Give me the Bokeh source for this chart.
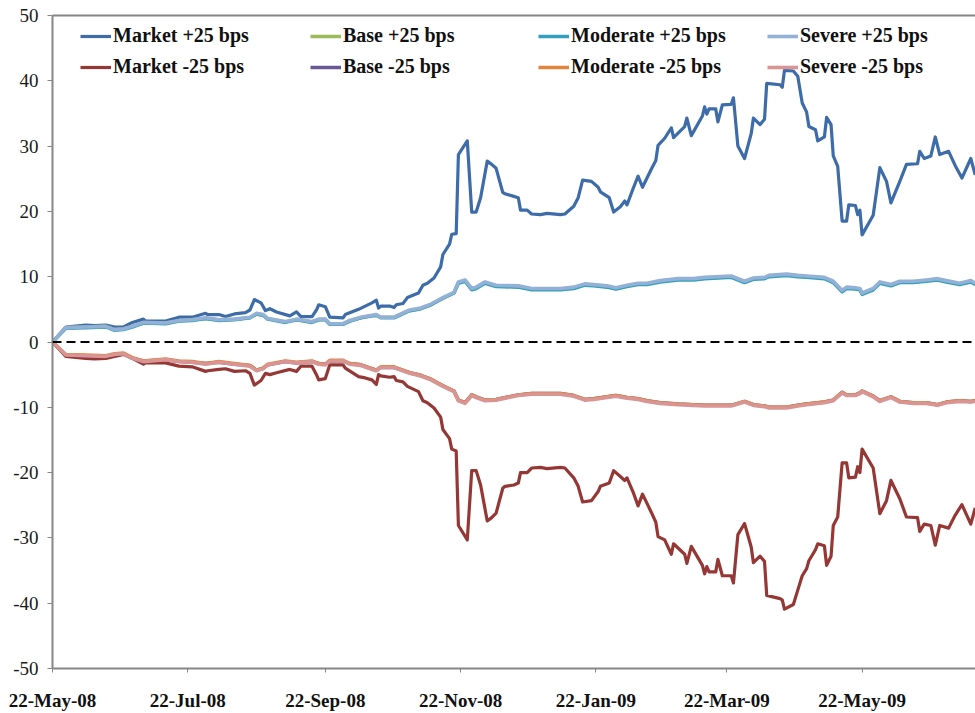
import pandas as pd
from bokeh.plotting import figure
from bokeh.models import (Range1d, FixedTicker, Span, Legend, LegendItem,
                          LinearAxis, DatetimeTickFormatter)
from bokeh.embed import file_html
from bokeh.resources import INLINE

# ---------------- data ----------------
market_dates = [
    "2008-05-22", "2008-05-28", "2008-06-06", "2008-06-10", "2008-06-15", "2008-06-19", "2008-06-23", "2008-06-27",
    "2008-07-02", "2008-07-03", "2008-07-12", "2008-07-18", "2008-07-24", "2008-07-30", "2008-07-31", "2008-08-05",
    "2008-08-08", "2008-08-12", "2008-08-17", "2008-08-19", "2008-08-21", "2008-08-24", "2008-08-26", "2008-08-28",
    "2008-08-31", "2008-09-06", "2008-09-09", "2008-09-11", "2008-09-16", "2008-09-18", "2008-09-19", "2008-09-22",
    "2008-09-24", "2008-09-30", "2008-10-01", "2008-10-07", "2008-10-10", "2008-10-13", "2008-10-15", "2008-10-16",
    "2008-10-17", "2008-10-21", "2008-10-23", "2008-10-24", "2008-10-27", "2008-10-29", "2008-11-03", "2008-11-05",
    "2008-11-07", "2008-11-10", "2008-11-13", "2008-11-14", "2008-11-17", "2008-11-18", "2008-11-20", "2008-11-21",
    "2008-11-25", "2008-11-27", "2008-11-29", "2008-12-01", "2008-12-04", "2008-12-06", "2008-12-08", "2008-12-11",
    "2008-12-12", "2008-12-16", "2008-12-18", "2008-12-19", "2008-12-22", "2008-12-24", "2008-12-28", "2008-12-31",
    "2009-01-06", "2009-01-08", "2009-01-12", "2009-01-14", "2009-01-16", "2009-01-20", "2009-01-23", "2009-01-24",
    "2009-01-28", "2009-01-30", "2009-02-02", "2009-02-04", "2009-02-05", "2009-02-08", "2009-02-10", "2009-02-12",
    "2009-02-16", "2009-02-18", "2009-02-19", "2009-02-22", "2009-02-25", "2009-02-26", "2009-03-03", "2009-03-04",
    "2009-03-06", "2009-03-11", "2009-03-12", "2009-03-13", "2009-03-14", "2009-03-17", "2009-03-18", "2009-03-20",
    "2009-03-24", "2009-03-25", "2009-03-27", "2009-03-30", "2009-04-02", "2009-04-03", "2009-04-06", "2009-04-08",
    "2009-04-09", "2009-04-15", "2009-04-16", "2009-04-17", "2009-04-21", "2009-04-23", "2009-04-25", "2009-04-27",
    "2009-04-28", "2009-05-01", "2009-05-02", "2009-05-05", "2009-05-06", "2009-05-08", "2009-05-09", "2009-05-11",
    "2009-05-13", "2009-05-15", "2009-05-16", "2009-05-19", "2009-05-20", "2009-05-21", "2009-05-22", "2009-05-27",
    "2009-05-30", "2009-06-02", "2009-06-04", "2009-06-08", "2009-06-11", "2009-06-16", "2009-06-17", "2009-06-19",
    "2009-06-22", "2009-06-24", "2009-06-26", "2009-06-30", "2009-07-03", "2009-07-06", "2009-07-10", "2009-07-12",
]
market_up = [
    0.0, 2.3, 2.6, 2.5, 2.6, 2.3, 2.3, 3.0, 3.5, 3.2, 3.2, 3.8, 3.8, 4.4, 4.2, 4.2,
    3.9, 4.3, 4.5, 4.9, 6.5, 6.0, 4.8, 5.1, 4.6, 4.0, 4.6, 3.9, 3.9, 4.9, 5.7, 5.4,
    3.8, 3.7, 4.2, 5.0, 5.5, 6.0, 6.4, 5.2, 5.5, 5.5, 5.3, 5.7, 5.9, 6.8, 7.5, 8.7,
    9.0, 9.8, 11.5, 13.4, 15.0, 16.5, 16.6, 28.7, 30.8, 19.9, 19.9, 22.1, 27.7, 27.2, 26.6, 22.9,
    22.7, 22.3, 22.1, 20.2, 20.2, 19.6, 19.5, 19.7, 19.5, 19.6, 20.8, 22.1, 24.8, 24.6, 23.7, 23.0,
    22.1, 19.9, 20.7, 21.6, 21.0, 23.7, 25.4, 23.7, 26.5, 27.8, 30.1, 31.2, 32.8, 31.3, 33.0, 34.3,
    31.6, 34.6, 36.0, 34.9, 35.7, 35.7, 33.7, 36.3, 36.4, 37.4, 30.0, 28.1, 31.9, 34.3, 33.3, 34.1,
    39.6, 39.4, 39.0, 41.6, 41.5, 40.7, 36.6, 35.2, 33.0, 32.5, 30.8, 31.4, 34.4, 33.3, 28.5, 26.9,
    18.5, 18.5, 21.0, 20.9, 19.5, 20.2, 16.4, 19.4, 26.7, 24.6, 21.3, 24.6, 27.2, 27.3, 29.2, 28.1,
    28.5, 31.4, 28.7, 29.2, 27.0, 25.1, 28.1, 25.6,
]
market_down = [
    0.0, -2.2, -2.5, -2.6, -2.5, -2.2, -1.9, -2.5, -3.4, -3.2, -3.2, -3.7, -3.8, -4.5, -4.4, -4.2,
    -4.1, -4.5, -4.4, -4.8, -6.6, -5.9, -4.8, -5.0, -4.7, -4.2, -4.5, -3.7, -3.7, -5.0, -5.8, -5.6,
    -3.5, -3.5, -4.0, -5.3, -5.5, -5.8, -6.5, -5.0, -5.2, -5.4, -5.3, -5.9, -6.1, -6.8, -7.6, -9.0,
    -9.3, -10.1, -11.5, -13.4, -14.8, -16.4, -16.7, -28.1, -30.3, -19.7, -19.7, -21.9, -27.4, -26.9, -26.2, -22.4,
    -22.1, -21.9, -21.6, -20.0, -20.0, -19.3, -19.2, -19.4, -19.2, -19.3, -20.8, -22.1, -24.5, -24.3, -22.9, -22.1,
    -21.6, -19.7, -20.6, -21.2, -20.8, -23.2, -25.1, -23.3, -26.1, -27.6, -29.8, -30.3, -32.5, -30.9, -32.5, -33.9,
    -31.3, -34.2, -35.5, -34.4, -35.2, -35.2, -33.3, -35.8, -35.8, -36.9, -29.5, -27.8, -31.4, -33.8, -32.8, -33.6,
    -38.8, -39.3, -39.5, -40.9, -40.2, -38.0, -35.8, -34.7, -33.5, -31.8, -30.9, -31.2, -34.2, -32.8, -28.1, -26.8,
    -18.5, -18.5, -20.8, -20.7, -19.1, -20.0, -16.4, -19.3, -26.3, -24.3, -21.2, -24.0, -26.8, -26.9, -29.0, -27.9,
    -28.1, -31.1, -28.1, -28.5, -26.5, -24.9, -27.9, -25.4,
]

scen_dates = [
    "2008-05-22", "2008-05-28", "2008-06-06", "2008-06-15", "2008-06-19", "2008-06-23", "2008-06-27", "2008-07-02",
    "2008-07-12", "2008-07-18", "2008-07-24", "2008-07-30", "2008-08-05", "2008-08-12", "2008-08-19", "2008-08-22",
    "2008-08-25", "2008-08-27", "2008-09-04", "2008-09-09", "2008-09-16", "2008-09-19", "2008-09-22", "2008-09-24",
    "2008-09-30", "2008-10-03", "2008-10-08", "2008-10-13", "2008-10-15", "2008-10-17", "2008-10-23", "2008-10-30",
    "2008-11-04", "2008-11-08", "2008-11-14", "2008-11-19", "2008-11-21", "2008-11-24", "2008-11-27", "2008-11-29",
    "2008-12-03", "2008-12-08", "2008-12-18", "2008-12-24", "2009-01-06", "2009-01-12", "2009-01-17", "2009-01-21",
    "2009-01-27", "2009-01-31", "2009-02-05", "2009-02-10", "2009-02-14", "2009-02-20", "2009-02-28", "2009-03-07",
    "2009-03-12", "2009-03-24", "2009-03-30", "2009-04-03", "2009-04-08", "2009-04-10", "2009-04-18", "2009-04-23",
    "2009-04-27", "2009-05-05", "2009-05-09", "2009-05-13", "2009-05-15", "2009-05-19", "2009-05-21", "2009-05-22",
    "2009-05-27", "2009-05-30", "2009-06-04", "2009-06-08", "2009-06-14", "2009-06-20", "2009-06-25", "2009-06-29",
    "2009-07-05", "2009-07-10", "2009-07-12",
]
base_up = [
    0.0, 2.2, 2.3, 2.4, 1.9, 2.0, 2.4, 2.9, 2.9, 3.2, 3.4, 3.6, 3.4, 3.5, 3.7, 4.3, 4.1, 3.6, 3.1, 3.4,
    3.1, 3.4, 3.5, 2.8, 2.8, 3.2, 3.7, 4.0, 4.1, 3.8, 3.8, 4.8, 5.1, 5.6, 6.7, 7.5, 9.1, 9.4, 8.1, 8.3,
    9.1, 8.6, 8.5, 8.1, 8.1, 8.3, 8.8, 8.7, 8.5, 8.2, 8.6, 8.9, 8.9, 9.3, 9.6, 9.6, 9.8, 10.0, 9.2, 9.7,
    9.8, 10.1, 10.3, 10.1, 10.0, 9.8, 9.2, 7.8, 8.3, 8.2, 8.1, 7.4, 8.1, 9.1, 8.7, 9.2, 9.2, 9.4, 9.6, 9.3,
    8.9, 9.3, 8.9,
]
moderate_up = [
    0.0, 2.1, 2.2, 2.3, 1.8, 1.9, 2.3, 2.9, 2.8, 3.2, 3.3, 3.6, 3.3, 3.4, 3.7, 4.3, 4.1, 3.5, 3.0, 3.4,
    3.0, 3.4, 3.4, 2.7, 2.7, 3.2, 3.7, 4.0, 4.1, 3.7, 3.7, 4.8, 5.1, 5.6, 6.7, 7.5, 9.0, 9.3, 8.0, 8.2,
    9.0, 8.5, 8.4, 8.0, 8.0, 8.2, 8.7, 8.6, 8.4, 8.1, 8.5, 8.8, 8.8, 9.2, 9.5, 9.5, 9.7, 9.9, 9.1, 9.6,
    9.7, 10.0, 10.2, 10.0, 9.9, 9.7, 9.1, 7.7, 8.2, 8.1, 8.0, 7.3, 8.0, 9.0, 8.6, 9.1, 9.1, 9.3, 9.5, 9.2,
    8.8, 9.2, 8.8,
]
severe_up = [
    0.0, 2.2, 2.3, 2.4, 1.9, 2.0, 2.4, 3.0, 2.9, 3.3, 3.4, 3.7, 3.4, 3.5, 3.8, 4.4, 4.2, 3.6, 3.1, 3.5,
    3.1, 3.5, 3.5, 2.8, 2.8, 3.3, 3.8, 4.1, 4.2, 3.8, 3.8, 4.9, 5.2, 5.7, 6.8, 7.6, 9.2, 9.5, 8.2, 8.4,
    9.2, 8.7, 8.6, 8.2, 8.2, 8.4, 8.9, 8.8, 8.6, 8.3, 8.7, 9.0, 9.0, 9.4, 9.7, 9.7, 9.9, 10.1, 9.3, 9.8,
    9.9, 10.2, 10.4, 10.2, 10.1, 9.9, 9.3, 7.9, 8.4, 8.3, 8.2, 7.5, 8.2, 9.2, 8.8, 9.3, 9.3, 9.5, 9.7, 9.4,
    9.0, 9.4, 9.0,
]
base_down = [
    0.0, -2.0, -2.1, -2.2, -1.9, -1.8, -2.5, -2.9, -2.7, -3.0, -3.1, -3.3, -3.1, -3.4, -3.6, -4.3, -4.0, -3.5, -3.0, -3.2,
    -3.0, -3.3, -3.4, -2.9, -2.9, -3.3, -3.5, -4.1, -4.3, -3.9, -3.9, -4.7, -5.1, -5.6, -6.7, -7.5, -8.9, -9.3, -8.1, -8.4,
    -8.9, -8.8, -8.1, -7.9, -7.9, -8.2, -8.8, -8.7, -8.4, -8.2, -8.5, -8.7, -9.0, -9.3, -9.5, -9.6, -9.7, -9.7, -9.1, -9.6,
    -9.8, -10.0, -10.0, -9.7, -9.5, -9.2, -8.9, -7.7, -8.1, -8.1, -7.8, -7.5, -8.3, -9.0, -8.4, -9.1, -9.3, -9.3, -9.6, -9.2,
    -9.0, -9.1, -9.0,
]
moderate_down = [
    0.0, -1.9, -2.0, -2.1, -1.8, -1.7, -2.4, -2.9, -2.6, -2.9, -3.0, -3.3, -3.0, -3.3, -3.6, -4.3, -4.0, -3.4, -2.9, -3.1,
    -2.9, -3.3, -3.4, -2.8, -2.8, -3.3, -3.5, -4.1, -4.3, -3.8, -3.8, -4.7, -5.1, -5.6, -6.7, -7.5, -8.9, -9.3, -8.1, -8.4,
    -8.9, -8.8, -8.1, -7.9, -7.9, -8.2, -8.8, -8.7, -8.4, -8.2, -8.5, -8.7, -9.0, -9.3, -9.5, -9.6, -9.7, -9.7, -9.1, -9.6,
    -9.8, -10.0, -10.0, -9.7, -9.5, -9.2, -8.9, -7.7, -8.1, -8.1, -7.8, -7.5, -8.3, -9.0, -8.4, -9.1, -9.3, -9.3, -9.6, -9.2,
    -9.0, -9.1, -9.0,
]
severe_down = [
    0.0, -2.0, -2.1, -2.2, -1.9, -1.8, -2.5, -3.0, -2.7, -3.0, -3.1, -3.4, -3.1, -3.4, -3.7, -4.4, -4.1, -3.5, -3.0, -3.2,
    -3.0, -3.4, -3.5, -2.9, -2.9, -3.4, -3.6, -4.2, -4.4, -3.9, -3.9, -4.8, -5.2, -5.7, -6.8, -7.6, -9.0, -9.4, -8.2, -8.5,
    -9.0, -8.9, -8.2, -8.0, -8.0, -8.3, -8.9, -8.8, -8.5, -8.3, -8.6, -8.8, -9.1, -9.4, -9.6, -9.7, -9.8, -9.8, -9.2, -9.7,
    -9.9, -10.1, -10.1, -9.8, -9.6, -9.3, -9.0, -7.8, -8.2, -8.2, -7.9, -7.6, -8.4, -9.1, -8.5, -9.2, -9.4, -9.4, -9.7, -9.3,
    -9.1, -9.2, -9.1,
]

series_names = ["Market +25 bps", "Base +25 bps", "Moderate +25 bps", "Severe +25 bps",
                "Market -25 bps", "Base -25 bps", "Moderate -25 bps", "Severe -25 bps"]
series_colors = ["#3D6CA8", "#9BBB59", "#31A0BC", "#93B1D6",
                 "#953735", "#6A5896", "#E3843E", "#D89593"]

tick_dates = ["2008-05-22", "2008-07-22", "2008-09-22", "2008-11-22",
              "2009-01-22", "2009-03-22", "2009-05-22"]
tick_labels = ["22-May-08", "22-Jul-08", "22-Sep-08", "22-Nov-08",
               "22-Jan-09", "22-Mar-09", "22-May-09"]
y_ticks = [-50, -40, -30, -20, -10, 0, 10, 20, 30, 40, 50]
y_tick_labels = ["-50", "-40", "-30", "-20", "-10", "0", "10", "20", "30", "40", "50"]
x_start, x_end = "2008-05-22", "2009-07-12 03:00"


def ms(s):
    return int(pd.Timestamp(s).value // 10**6)


# ---------------- figure ----------------
AXIS_GRAY = "#868686"
SERIF = "Liberation Serif"

p = figure(width=975, height=713, x_axis_type="datetime",
           output_backend="svg", toolbar_location=None,
           x_range=Range1d(ms(x_start), ms(x_end)), y_range=Range1d(-50, 50),
           min_border_left=52, min_border_right=0, min_border_top=15, min_border_bottom=44)
p.outline_line_color = None
p.xgrid.visible = False
p.ygrid.visible = False
p.background_fill_color = "white"

# y axis
ya = p.yaxis[0]
ya.ticker = FixedTicker(ticks=y_ticks)
ya.major_label_overrides = {t: lab for t, lab in zip(y_ticks, y_tick_labels)}
ya.axis_line_color = AXIS_GRAY
ya.axis_line_width = 2
ya.major_tick_line_color = AXIS_GRAY
ya.major_tick_line_width = 1
ya.major_tick_out = 5
ya.major_tick_in = 0
ya.minor_tick_line_color = None
ya.major_label_text_font = SERIF
ya.major_label_text_font_size = "19px"
ya.major_label_text_color = "#1a1a1a"
ya.major_label_standoff = 9

# x axis
xa = p.xaxis[0]
tick_ms = [ms(d) for d in tick_dates]
xa.ticker = FixedTicker(ticks=tick_ms)
fmt = "%d-%b-%y"
xa.formatter = DatetimeTickFormatter(milliseconds=fmt, seconds=fmt, minsec=fmt, minutes=fmt,
                                     hourmin=fmt, hours=fmt, days=fmt, months=fmt, years=fmt)
xa.major_label_overrides = {t: lab for t, lab in zip(tick_ms, tick_labels)}
xa.axis_line_color = AXIS_GRAY
xa.axis_line_width = 2
xa.major_tick_line_color = AXIS_GRAY
xa.major_tick_out = 4
xa.major_tick_in = 0
xa.minor_tick_line_color = None
xa.major_label_text_font = SERIF
xa.major_label_text_font_style = "bold"
xa.major_label_text_font_size = "19px"
xa.major_label_text_color = "#111111"
xa.major_label_standoff = 17

# top border line of the plot area (axis without ticks or labels)
top = LinearAxis(ticker=FixedTicker(ticks=[]), axis_line_color=AXIS_GRAY, axis_line_width=2,
                 major_tick_line_color=None, minor_tick_line_color=None,
                 major_tick_out=0, major_tick_in=0, minor_tick_out=0, minor_tick_in=0,
                 major_label_standoff=0)
p.add_layout(top, "above")

# zero line
p.add_layout(Span(location=0, dimension="width", line_color="black",
                  line_width=2, line_dash="9 5"))

mx = pd.to_datetime(market_dates)
sx = pd.to_datetime(scen_dates)
series_x = [mx, sx, sx, sx, mx, sx, sx, sx]
series_y = [market_up, base_up, moderate_up, severe_up,
            market_down, base_down, moderate_down, severe_down]
widths = [3.2, 3.5, 3.5, 3.6, 3.2, 3.5, 3.5, 3.6]

renderers = []
for xs, ys, c, w in zip(series_x, series_y, series_colors, widths):
    r = p.line(x=xs, y=ys, line_color=c, line_width=w, line_join="round")
    renderers.append(r)

# legend: 4 columns x 2 rows
col_offsets = [28, 258, 486, 715]
for col in range(4):
    items = [LegendItem(label=series_names[col], renderers=[renderers[col]]),
             LegendItem(label=series_names[col + 4], renderers=[renderers[col + 4]])]
    leg = Legend(items=items, location=(col_offsets[col], 590),
                 orientation="vertical", padding=0, margin=0, spacing=8,
                 glyph_width=31, glyph_height=20, label_height=20, label_standoff=2,
                 label_text_font=SERIF, label_text_font_style="bold",
                 label_text_font_size="20px", label_text_color="#111111",
                 background_fill_alpha=0, border_line_color=None)
    p.add_layout(leg, "center")

open("out.html", "w").write(file_html(p, INLINE))
